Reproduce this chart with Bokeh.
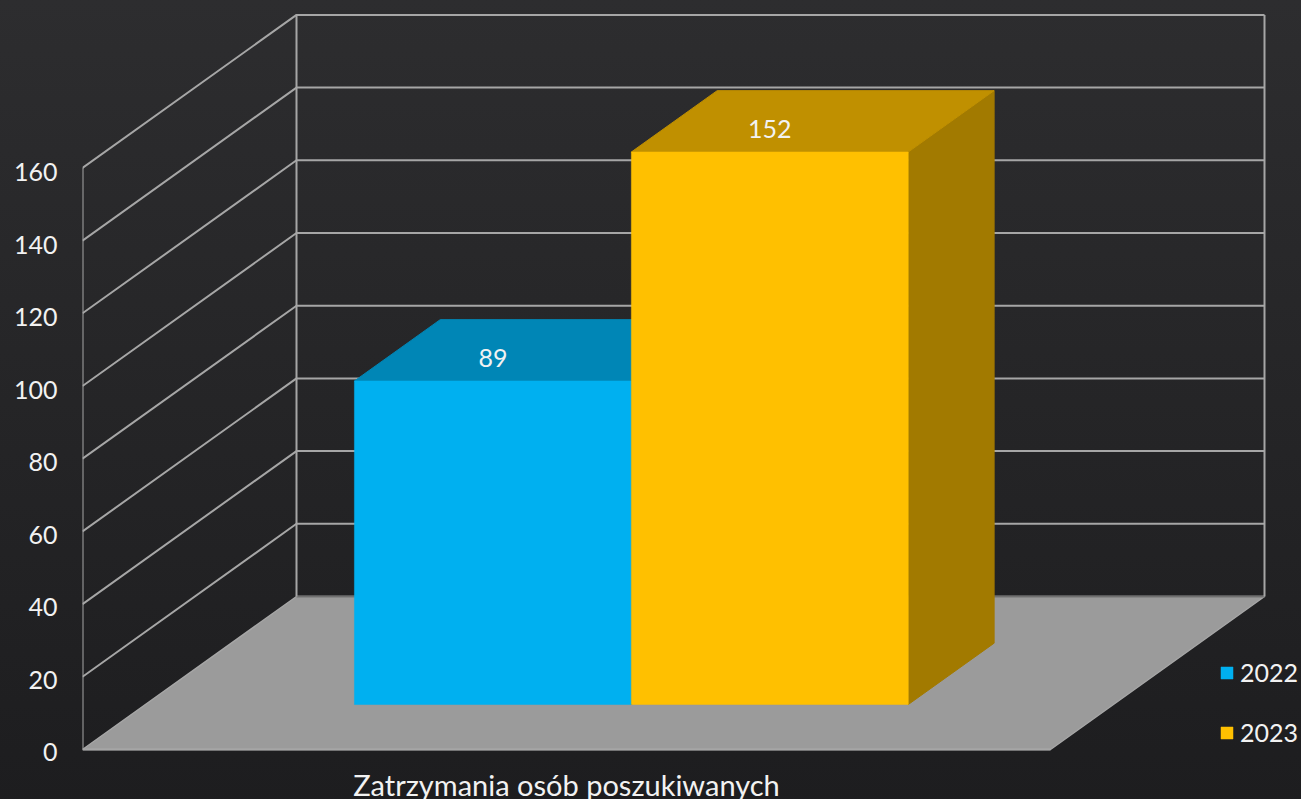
from bokeh.plotting import figure
from bokeh.models import FixedTicker, Legend, LegendItem, LinearAxis, Range1d
from bokeh.embed import file_html
from bokeh.resources import INLINE
from bokeh.core.properties import value

# --- data ---
categories = ["Zatrzymania osób poszukiwanych"]
series_names = ["2022", "2023"]
values_2022 = [89]
values_2023 = [152]
value_ticks = [0, 20, 40, 60, 80, 100, 120, 140, 160]

# --- styling / geometry of the 3D box (in data units) ---
FONT = "Lato"
TXT = "#f2f2f2"
GRID = "#a6a6a6"
FLOOR = "#9b9b9b"
FACE = {"2022": ("#00b0f0", "#0086b6", "#00749e"), "2023": ("#ffc000", "#c09000", "#a27a00")}
PX_PER_VALUE = 3.635
DEPTH_X = 214 / 968        # shear of the box per unit of depth, in category units
DEPTH_Y = 153 / PX_PER_VALUE  # shear of the box per unit of depth, in value units
D_NEAR, D_FAR = 0.294, 0.695
BAR_W = 0.2861
BAR_CENTER = 0.502
VMAX = value_ticks[-1]
ZERO_PX = 749    # pixel row of value 0 on the front edge
FRAME_H = 760


def pr(u, v, d=0.0):
    """Oblique projection of (category position, value, depth) to plot coordinates."""
    return u + d * DEPTH_X, v + d * DEPTH_Y


def poly(points):
    xy = [pr(*q) for q in points]
    return [a for a, _ in xy], [b for _, b in xy]


p = figure(width=1301, height=799, frame_width=1219, frame_height=FRAME_H,
           x_range=Range1d(0, 1219 / 968),
           y_range=Range1d(-(FRAME_H - ZERO_PX) / PX_PER_VALUE, ZERO_PX / PX_PER_VALUE),
           output_backend="svg", toolbar_location=None, y_axis_location=None,
           min_border_left=82, min_border_right=0, min_border_top=0, min_border_bottom=39,
           background_fill_alpha=0, border_fill_alpha=0, outline_line_alpha=0)
p.styles = {"position": "fixed", "left": "0", "top": "0",
            "background": "linear-gradient(180deg, #2d2d2f 0%, #1d1d1f 100%)"}
p.grid.visible = False

# floor
fx, fy = poly([(0, 0, 0), (1, 0, 0), (1, 0, 1), (0, 0, 1)])
p.patch(fx, fy, fill_color=FLOOR, line_color=GRID, line_width=1.5)

# gridlines on the left and the back wall, plus the wall edges
for t in value_ticks[1:]:
    lx, ly = poly([(0, t, 0), (0, t, 1), (1, t, 1)])
    p.line(lx, ly, line_color=GRID, line_width=2)
lx, ly = poly([(1, 0, 1), (0, 0, 1)])
p.line(lx, ly, line_color="#707070", line_width=2)
for u, d in [(0, 0), (0, 1), (1, 1)]:
    lx, ly = poly([(u, 0, d), (u, VMAX, d)])
    p.line(lx, ly, line_color=GRID, line_width=2)
lx, ly = poly([(0, 0, 0), (1, 0, 0)])
p.line(lx, ly, line_color=GRID, line_width=2)

# bars
legend_items = []
series_values = [values_2022[0], values_2023[0]]
for i, (name, val) in enumerate(zip(series_names, series_values)):
    u0 = BAR_CENTER + (i - 1) * BAR_W
    u1 = u0 + BAR_W
    front_c, top_c, side_c = FACE[name]
    x, y = poly([(u1, 0, D_NEAR), (u1, 0, D_FAR), (u1, val, D_FAR), (u1, val, D_NEAR)])
    p.patch(x, y, fill_color=side_c, line_color=side_c)
    x, y = poly([(u0, val, D_NEAR), (u1, val, D_NEAR), (u1, val, D_FAR), (u0, val, D_FAR)])
    p.patch(x, y, fill_color=top_c, line_color=top_c)
    x, y = poly([(u0, 0, D_NEAR), (u1, 0, D_NEAR), (u1, val, D_NEAR), (u0, val, D_NEAR)])
    r = p.patch(x, y, fill_color=front_c, line_color=front_c, line_width=0.5)
    legend_items.append(LegendItem(label=name, renderers=[r]))

# value labels are drawn after all bars
for i, val in enumerate(series_values):
    u = BAR_CENTER + (i - 0.5) * BAR_W
    x, y = pr(u, val + 6.3, D_NEAR)
    p.text([x], [y], text=[str(val)], text_color=TXT, text_font=value(FONT), text_font_size="25px",
           text_align="center", text_baseline="middle")

# value axis: its labels sit slightly below the wall's gridlines, as in the reference
LABEL_SCALE = 3.625
LABEL_ZERO_PX = 751.7
p.extra_y_ranges = {"labels": Range1d(-(FRAME_H - LABEL_ZERO_PX) / LABEL_SCALE, LABEL_ZERO_PX / LABEL_SCALE)}
ya = LinearAxis(y_range_name="labels", ticker=FixedTicker(ticks=value_ticks),
                axis_line_color=None, major_tick_line_color=None, minor_tick_line_color=None,
                major_label_standoff=19, major_label_text_color=TXT,
                major_label_text_font=FONT, major_label_text_font_size="25px")
p.add_layout(ya, "left")

xa = p.xaxis[0]
xa.ticker = FixedTicker(ticks=[0.5])
xa.major_label_overrides = {0.5: categories[0]}
xa.axis_line_color = None
xa.major_tick_line_color = None
xa.minor_tick_line_color = None
xa.major_label_standoff = 0
xa.major_label_text_color = TXT
xa.major_label_text_font = FONT
xa.major_label_text_font_size = "29px"

legend = Legend(items=legend_items, location=(1137, 13), orientation="vertical",
                glyph_width=15, glyph_height=15, label_standoff=6, spacing=30, margin=0, padding=0,
                label_text_color=TXT, label_text_font=FONT, label_text_font_size="25px",
                background_fill_alpha=0, border_line_alpha=0)
p.add_layout(legend, "center")

open("out.html", "w").write(file_html(p, INLINE))
